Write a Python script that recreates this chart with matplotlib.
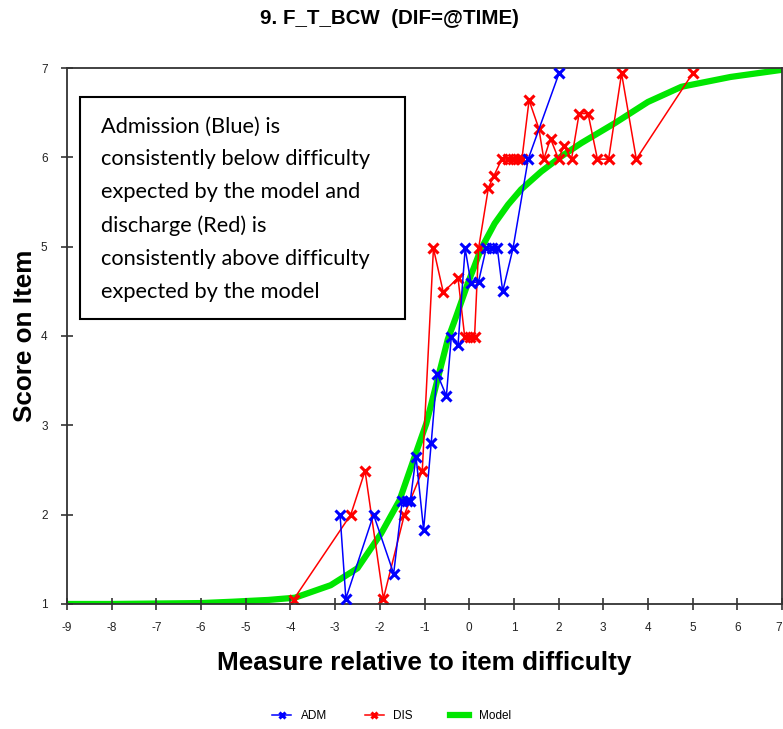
import matplotlib
matplotlib.use("Agg")
import matplotlib.pyplot as plt
from matplotlib.patches import Rectangle

plt.rcParams["axes.unicode_minus"] = False

# data
adm_x = [-2.89, -2.76, -2.14, -1.69, -1.50, -1.40, -1.32, -1.19, -1.02, -0.85, -0.72, -0.51,
         -0.40, -0.25, -0.09, 0.04, 0.21, 0.38, 0.52, 0.63, 0.75, 0.98, 1.32, 2.01]
adm_y = [2.0, 1.06, 2.0, 1.34, 2.15, 2.15, 2.15, 2.65, 1.83, 2.80, 3.58, 3.33,
         3.99, 3.90, 4.98, 4.59, 4.61, 4.98, 4.98, 4.98, 4.50, 4.98, 5.98, 6.94]

dis_x = [-3.93, -2.65, -2.33, -1.92, -1.45, -1.05, -0.80, -0.58, -0.25, -0.10, 0.01, 0.12,
         0.21, 0.43, 0.55, 0.73, 0.87, 0.99, 1.09, 1.18, 1.34, 1.56, 1.67, 1.82, 2.00,
         2.12, 2.29, 2.46, 2.66, 2.87, 3.12, 3.41, 3.74, 5.00]
dis_y = [1.05, 2.0, 2.49, 1.06, 2.0, 2.49, 4.98, 4.49, 4.65, 3.99, 3.99, 3.99,
         4.98, 5.66, 5.79, 5.98, 5.98, 5.98, 5.98, 5.98, 6.64, 6.32, 5.98, 6.21, 5.98,
         6.13, 5.98, 6.49, 6.49, 5.98, 5.98, 6.94, 5.98, 6.94]

model_x = [-9, -8, -7, -6, -5.3, -4.5, -3.9, -3.1, -2.5, -1.97, -1.56, -1.22, -0.96, -0.74,
           -0.48, -0.29, -0.03, 0.27, 0.57, 0.87, 1.16, 1.61, 2.06, 2.51, 2.88, 3.25, 4.0,
           4.75, 5.85, 7.0]
model_y = [1.0, 1.0, 1.005, 1.01, 1.025, 1.045, 1.07, 1.21, 1.40, 1.79, 2.16, 2.65, 3.02, 3.45,
           3.96, 4.22, 4.59, 4.98, 5.26, 5.47, 5.64, 5.84, 6.01, 6.16, 6.27, 6.38, 6.62,
           6.79, 6.90, 6.98]

x_ticks = list(range(-9, 8))
y_ticks = list(range(1, 8))

note = ("Admission (Blue) is\nconsistently below difficulty\nexpected by the model and\n"
        "discharge (Red) is\nconsistently above difficulty\nexpected by the model")

fig = plt.figure(figsize=(7.83, 7.29), dpi=100)
ax = fig.add_axes([0.0856, 0.1715, 0.9131, 0.7352])

ax.plot(model_x, model_y, color="#00e600", lw=4.5, label="Model", zorder=1,
        solid_joinstyle="round")
ax.plot(adm_x, adm_y, color="#0000ff", lw=1.1, marker="x", ms=7, mew=2.2, label="ADM", zorder=3)
ax.plot(dis_x, dis_y, color="#ff0000", lw=1.1, marker="x", ms=7, mew=2.2, label="DIS", zorder=2)

ax.set_xlim(-9, 7)
ax.set_ylim(1, 7)
ax.set_xticks(x_ticks)
ax.set_yticks(y_ticks)
ax.tick_params(direction="inout", length=8, width=1.2, labelsize=8.5, colors="#333333",
               labelcolor="#222222")
ax.tick_params(axis="x", pad=9)
ax.tick_params(axis="y", pad=10)
for lab in ax.get_xticklabels() + ax.get_yticklabels():
    lab.set_family("Liberation Sans")
ax.get_xticklabels()[-1].set_horizontalalignment("right")
for s in ax.spines.values():
    s.set_linewidth(1.3)
    s.set_color("#333333")

ax.set_xlabel("Measure relative to item difficulty", fontsize=18.8, fontweight="bold",
              family="Liberation Sans", labelpad=12)
ax.set_ylabel("Score on Item", fontsize=18.8, fontweight="bold", family="Liberation Sans",
              labelpad=3)
fig.text(0.497, 0.975, "9. F_T_BCW  (DIF=@TIME)", ha="center", va="center",
         fontsize=14.8, fontweight="bold", family="Liberation Sans")

# annotation box
ax.add_patch(Rectangle((-8.70, 4.19), 7.27, 2.48, fc="white", ec="black", lw=1.5, zorder=5))
ax.text(-8.25, 5.42, note, fontsize=15.7, family="Lato", va="center", ha="left",
        linespacing=1.8, zorder=6)

# legend at the bottom
handles, labels = ax.get_legend_handles_labels()
order = [1, 2, 0]
fig.legend([handles[i] for i in order], [labels[i] for i in order], loc="center",
           bbox_to_anchor=(0.5, 0.018), ncol=3, frameon=False,
           handlelength=1.6, columnspacing=3.2, markerscale=0.7,
           prop={"family": "Liberation Sans", "size": 8.5})

fig.savefig("out.png", dpi=100)
